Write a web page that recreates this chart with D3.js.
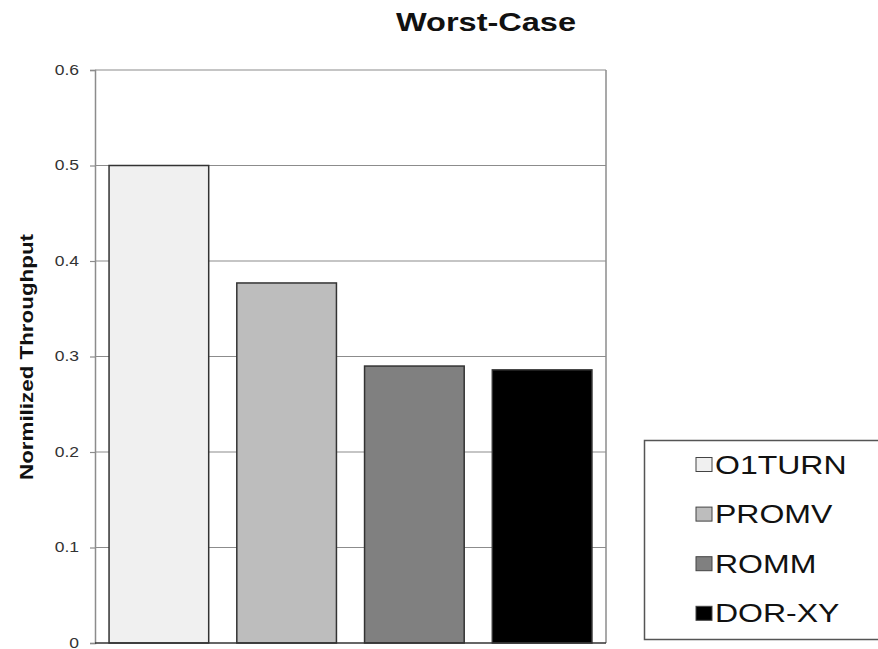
<!DOCTYPE html>
<html><head><meta charset="utf-8">
<script src="https://cdn.jsdelivr.net/npm/d3@7"></script>
<style>body{margin:0;background:#fff}svg{display:block}</style>
</head><body>
<script>
const categories = ["O1TURN", "PROMV", "ROMM", "DOR-XY"];
const values = [0.5, 0.377, 0.290, 0.286];
const colors = ["#f0f0f0", "#bdbdbd", "#808080", "#000000"];
const yTicks = [0, 0.1, 0.2, 0.3, 0.4, 0.5, 0.6];
const tickLabels = ["0", "0.1", "0.2", "0.3", "0.4", "0.5", "0.6"];

(function () {
const W = 878, H = 649;
const svg = d3.select("body").append("svg").attr("width", W).attr("height", H)
  .style("font-family", "Liberation Sans, Arial, sans-serif");

function stretch(sel, f) {
  sel.each(function () {
    const w = this.getComputedTextLength();
    d3.select(this).attr("textLength", w * f).attr("lengthAdjust", "spacingAndGlyphs");
  });
}

const pL = 95, pR = 606, pT = 70, pB = 643;
const x = d3.scaleBand().domain(categories).range([pL, pR]).paddingInner(0.22).paddingOuter(0.11);
const y = d3.scaleLinear().domain([0, 0.6]).range([pB, pT]);

// gridlines
svg.append("g").selectAll("line").data(yTicks.filter(d => d > 0)).join("line")
  .attr("x1", pL).attr("x2", pR).attr("y1", d => y(d)).attr("y2", d => y(d))
  .attr("stroke", "#8c8c8c").attr("stroke-width", 1.2);
// right border
svg.append("line").attr("x1", pR).attr("x2", pR).attr("y1", pT).attr("y2", pB)
  .attr("stroke", "#8c8c8c").attr("stroke-width", 1.5);

// bars
svg.append("g").selectAll("rect").data(categories).join("rect")
  .attr("x", d => x(d)).attr("width", x.bandwidth())
  .attr("y", (d, i) => y(values[i])).attr("height", (d, i) => pB - y(values[i]))
  .attr("fill", (d, i) => colors[i]).attr("stroke", "#333").attr("stroke-width", 1.5);

// y axis
const yAxis = d3.axisLeft(y).tickValues(yTicks).tickFormat((d, i) => tickLabels[i]).tickSize(5).tickPadding(11);
const ga = svg.append("g").attr("transform", `translate(${pL},0)`).call(yAxis);
ga.select(".domain").attr("stroke", "#8c8c8c").attr("stroke-width", 1.5);
ga.selectAll(".tick line").attr("stroke", "#8c8c8c").attr("stroke-width", 1.2);
const tt = ga.selectAll(".tick text").attr("font-size", 14).attr("fill", "#333")
  .style("font-family", "Liberation Sans, Arial, sans-serif");
stretch(tt, 1.25);
// x baseline
svg.append("line").attr("x1", pL).attr("x2", pR).attr("y1", pB).attr("y2", pB)
  .attr("stroke", "#333").attr("stroke-width", 1.5);

// title
const title = svg.append("text").attr("x", 486).attr("y", 31).attr("text-anchor", "middle")
  .attr("font-size", 25).attr("font-weight", "bold").attr("fill", "#111").text("Worst-Case");
stretch(title, 1.3);

// y label
const yl = svg.append("text").attr("transform", "translate(33,357) rotate(-90)").attr("text-anchor", "middle")
  .attr("font-size", 19).attr("font-weight", "bold").attr("fill", "#111").text("Normilized Throughput");
yl.attr("textLength", 246).attr("lengthAdjust", "spacingAndGlyphs");

// legend
svg.append("rect").attr("x", 644.5).attr("y", 440.5).attr("width", 250).attr("height", 199)
  .attr("fill", "#fff").attr("stroke", "#555").attr("stroke-width", 1.5);
const lg = svg.append("g").selectAll("g").data(categories).join("g")
  .attr("transform", (d, i) => `translate(696,${464.5 + i * 49.6})`);
lg.append("rect").attr("x", 0).attr("y", -7).attr("width", 16).attr("height", 14)
  .attr("fill", (d, i) => colors[i]).attr("stroke", "#444").attr("stroke-width", 1);
const lt = lg.append("text").attr("x", 19).attr("y", 9).attr("font-size", 25).attr("fill", "#111").text(d => d);
stretch(lt, 1.28);
})();
</script>
</body></html>
